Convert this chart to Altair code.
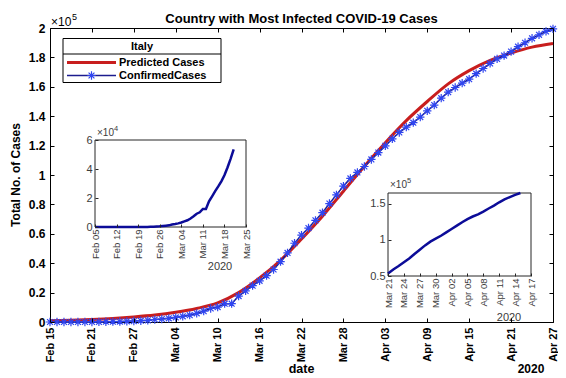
import altair as alt
import pandas as pd

FONT = "Liberation Sans"

# ---------------- data ----------------
# Italy, cumulative confirmed cases, one value per day starting 2020-02-05
first_day = "2020-02-05"
confirmed = [2, 2, 3, 3, 3, 3, 3, 3, 3, 3,
             3, 3, 3, 3, 3, 3, 20, 62, 155, 229, 322, 453, 655, 888, 1128,
             1694, 2036, 2502, 3089, 3858, 4636, 5883, 7375, 9172, 10149,
             12462, 12462, 17660, 21157, 24747, 27980, 31506, 35713, 41035, 47021,
             53578, 59138, 63927, 69176, 74386, 80589, 86498, 92472, 97689, 101739,
             105792,
             110574, 115242, 119827, 124632, 128948, 132547, 135586, 139422, 143626, 147577,
             152271, 156363, 159516, 162488, 165155, 168941, 172434, 175925, 178972, 181228,
             183957, 187327, 189973, 192994, 195351, 197675, 199414]

# predicted (fitted) curve, x10^5
pred_dates = ["2020-02-15", "2020-02-18", "2020-02-21", "2020-02-24", "2020-02-27",
              "2020-03-01", "2020-03-04", "2020-03-07", "2020-03-10", "2020-03-13",
              "2020-03-16", "2020-03-19", "2020-03-22", "2020-03-25", "2020-03-28",
              "2020-03-31", "2020-04-03", "2020-04-06", "2020-04-09", "2020-04-12",
              "2020-04-15", "2020-04-18", "2020-04-21", "2020-04-24", "2020-04-27"]
pred_vals = [0.008, 0.012, 0.017, 0.024, 0.034,
             0.047, 0.066, 0.092, 0.13, 0.20,
             0.30, 0.42, 0.565, 0.72, 0.89,
             1.06, 1.22, 1.37, 1.50, 1.62,
             1.71, 1.78, 1.83, 1.87, 1.895]

series_names = ["Predicted Cases", "ConfirmedCases"]
legend_title = "Italy"
chart_title = "Country with Most Infected COVID-19 Cases"
x_title = "date"
y_title = "Total No. of Cases"
year_label = "2020"

main_range = ["2020-02-15", "2020-04-27"]
main_ticks = ["2020-02-15", "2020-02-21", "2020-02-27", "2020-03-04", "2020-03-10",
              "2020-03-16", "2020-03-22", "2020-03-28", "2020-04-03", "2020-04-09",
              "2020-04-15", "2020-04-21", "2020-04-27"]
main_yticks = [0, 0.2, 0.4, 0.6, 0.8, 1, 1.2, 1.4, 1.6, 1.8, 2]

left_range = ["2020-02-05", "2020-03-25"]
left_data_range = ["2020-02-05", "2020-03-21"]
left_ticks = ["2020-02-05", "2020-02-12", "2020-02-19", "2020-02-26",
              "2020-03-04", "2020-03-11", "2020-03-18", "2020-03-25"]
left_ydom = [0, 6]
left_yticks = [0, 2, 4, 6]

right_range = ["2020-03-21", "2020-04-17"]
right_data_range = ["2020-03-21", "2020-04-15"]
right_ticks = ["2020-03-21", "2020-03-24", "2020-03-27", "2020-03-30", "2020-04-02",
               "2020-04-05", "2020-04-08", "2020-04-11", "2020-04-14", "2020-04-17"]
right_ydom = [0.5, 1.6516]
right_yticks = [0.5, 1, 1.5]

# ---------------- tables ----------------
all_df = pd.DataFrame({"date": pd.date_range(first_day, periods=len(confirmed), freq="D"),
                       "cases": confirmed})
main_df = all_df[all_df.date >= pd.Timestamp(main_range[0])].copy()
main_df["v"] = main_df.cases / 1e5
pred_df = pd.DataFrame({"date": pd.to_datetime(pred_dates), "v": pred_vals})
left_df = all_df[(all_df.date >= pd.Timestamp(left_data_range[0])) &
                 (all_df.date <= pd.Timestamp(left_data_range[1]))].copy()
left_df["v"] = left_df.cases / 1e4
right_df = all_df[(all_df.date >= pd.Timestamp(right_data_range[0])) &
                  (all_df.date <= pd.Timestamp(right_data_range[1]))].copy()
right_df["v"] = right_df.cases / 1e5
one = pd.DataFrame({"k": [0]})


def dt(s):
    d = pd.Timestamp(s)
    return alt.DateTime(year=d.year, month=d.month, date=d.day)


RED = "#c81e1e"
NAVY = "#1c1c8e"
BLUE = "#2f45f0"
INSET = "#0c0c98"
ASTER = "M-1,0L1,0M0,-1L0,1M-0.7,-0.7L0.7,0.7M-0.7,0.7L0.7,-0.7"

W, H = 503, 294

# ---------------- main plot ----------------
main_x = alt.Scale(domain=[dt(main_range[0]), dt(main_range[1])], nice=False)
main_y = alt.Scale(domain=[0, 2], nice=False)
ax = dict(domain=False, grid=False, tickColor="black", tickSize=4, offset=-4, zindex=1,
          labelFont=FONT, labelFontWeight="bold", labelColor="black", title=None)
x_bottom = alt.Axis(orient="bottom", values=[dt(t) for t in main_ticks], format="%b %d",
                    labelAngle=270, labelPadding=5, labelFontSize=11, **ax)
x_top = alt.Axis(orient="top", values=[dt(t) for t in main_ticks], labels=False, **ax)
y_left = alt.Axis(orient="left", values=main_yticks, format="~g", labelPadding=5,
                  labelFontSize=12, **ax)
y_right = alt.Axis(orient="right", values=main_yticks, labels=False, **ax)

red = alt.Chart(pred_df).mark_line(color=RED, strokeWidth=3, interpolate="monotone").encode(
    x=alt.X("date:T", scale=main_x, axis=x_bottom),
    y=alt.Y("v:Q", scale=main_y, axis=y_left))
blue = alt.Chart(main_df).mark_line(color=NAVY, strokeWidth=1.5).encode(
    x=alt.X("date:T", scale=main_x, axis=x_top),
    y=alt.Y("v:Q", scale=main_y, axis=y_right))
pts = alt.Chart(main_df).mark_point(shape=ASTER, filled=False, color=BLUE, size=70,
                                    strokeWidth=1.2, opacity=1).encode(
    x=alt.X("date:T", scale=main_x, axis=None),
    y=alt.Y("v:Q", scale=main_y, axis=None))


# ---------------- insets ----------------
def inset(df, xdom, ydom, xticks, yticks, xr, yr):
    xs = alt.Scale(domain=[dt(xdom[0]), dt(xdom[1])], range=xr, nice=False)
    ys = alt.Scale(domain=ydom, range=yr, nice=False)
    common = dict(domain=False, grid=False, tickColor="#262626", tickSize=3, zindex=2,
                  labelFont=FONT, labelColor="#3c3c3c", title=None)
    xa = alt.Axis(orient="bottom", offset=yr[0] - H - 3, values=[dt(t) for t in xticks],
                  format="%b %d", labelAngle=270, labelPadding=2, labelFontSize=9.5, **common)
    ya = alt.Axis(orient="left", offset=-(xr[0] + 3), values=yticks, format="~g",
                  labelPadding=3, labelFontSize=11, **common)
    fr = pd.DataFrame({"x0": [pd.Timestamp(xdom[0])], "x1": [pd.Timestamp(xdom[1])],
                       "y0": [ydom[0]], "y1": [ydom[1]]})
    frame = alt.Chart(fr).mark_rect(fill="white", stroke="#262626", strokeWidth=1).encode(
        x=alt.X("x0:T", scale=xs, axis=xa), x2="x1:T",
        y=alt.Y("y0:Q", scale=ys, axis=ya), y2="y1:Q")
    line = alt.Chart(df).mark_line(color=INSET, strokeWidth=2.5).encode(
        x=alt.X("date:T", scale=xs, axis=None),
        y=alt.Y("v:Q", scale=ys, axis=None))
    return [frame, line]


inset_left = inset(left_df, left_range, left_ydom, left_ticks, left_yticks, [45, 196], [199, 112])
inset_right = inset(right_df, right_range, right_ydom, right_ticks, right_yticks, [338, 481], [248, 165])


# ---------------- decorations ----------------
def txt(s, x, y, size=12, bold=False, color="black", align="center", angle=0):
    kw = dict(font=FONT, fontSize=size, fontWeight="bold" if bold else "normal",
              color=color, align=align, baseline="middle")
    if angle:
        kw["angle"] = angle
    return alt.Chart(one).mark_text(**kw).encode(
        x=alt.value(x), y=alt.value(y), text=alt.value(s))


deco = [
    txt(chart_title, 251.5, -9, 13, True),
    txt("×10", 1, -6, 12, False, "black", "left"),
    txt("5", 22, -11, 9, False, "black", "left"),
    txt(y_title, -34, 147, 12, True, angle=270),
    txt(x_title, 251.5, 341, 12.5, True),
    txt(year_label, 481, 341, 12, True),
    txt("×10", 47, 105, 10, False, "#3c3c3c", "left"),
    txt("4", 64, 101, 7.5, False, "#3c3c3c", "left"),
    txt(year_label, 170, 239, 11, False, "#3c3c3c"),
    txt("×10", 340, 157, 10, False, "#3c3c3c", "left"),
    txt("5", 357, 153, 7.5, False, "#3c3c3c", "left"),
    txt(year_label, 459, 290, 11, False, "#3c3c3c"),
]

legend_box = alt.Chart(one).mark_rect(fill="white", stroke="black", strokeWidth=1).encode(
    x=alt.value(13), x2=alt.value(171), y=alt.value(10.5), y2=alt.value(54.5))
legend_sep = alt.Chart(one).mark_rule(color="black", strokeWidth=1).encode(
    x=alt.value(13), x2=alt.value(171), y=alt.value(26))
leg_red = alt.Chart(one).mark_rule(color=RED, strokeWidth=3).encode(
    x=alt.value(17), x2=alt.value(66), y=alt.value(34.5))
leg_blue = alt.Chart(one).mark_rule(color=NAVY, strokeWidth=1.5).encode(
    x=alt.value(17), x2=alt.value(66), y=alt.value(47.5))
leg_ast = alt.Chart(one).mark_point(shape=ASTER, filled=False, color=BLUE, size=70,
                                    strokeWidth=1.2, opacity=1).encode(
    x=alt.value(41.5), y=alt.value(47.5))
legend = [legend_box, legend_sep,
          txt(legend_title, 92, 18.5, 11, True),
          leg_red, leg_blue, leg_ast,
          txt(series_names[0], 69, 34.5, 11, True, align="left"),
          txt(series_names[1], 69, 47.5, 11, True, align="left")]

chart = alt.layer(red, blue, pts, *inset_left, *inset_right, *legend, *deco).resolve_scale(
    x="independent", y="independent"
).resolve_axis(
    x="independent", y="independent"
).properties(
    width=W, height=H,
    padding={"left": 42, "top": 20, "right": 5, "bottom": 54},
    autosize=alt.AutoSizeParams(type="none"),
).configure_view(stroke="black", strokeWidth=1)

chart.save("out.html", embed_options={"renderer": "svg", "actions": False})
